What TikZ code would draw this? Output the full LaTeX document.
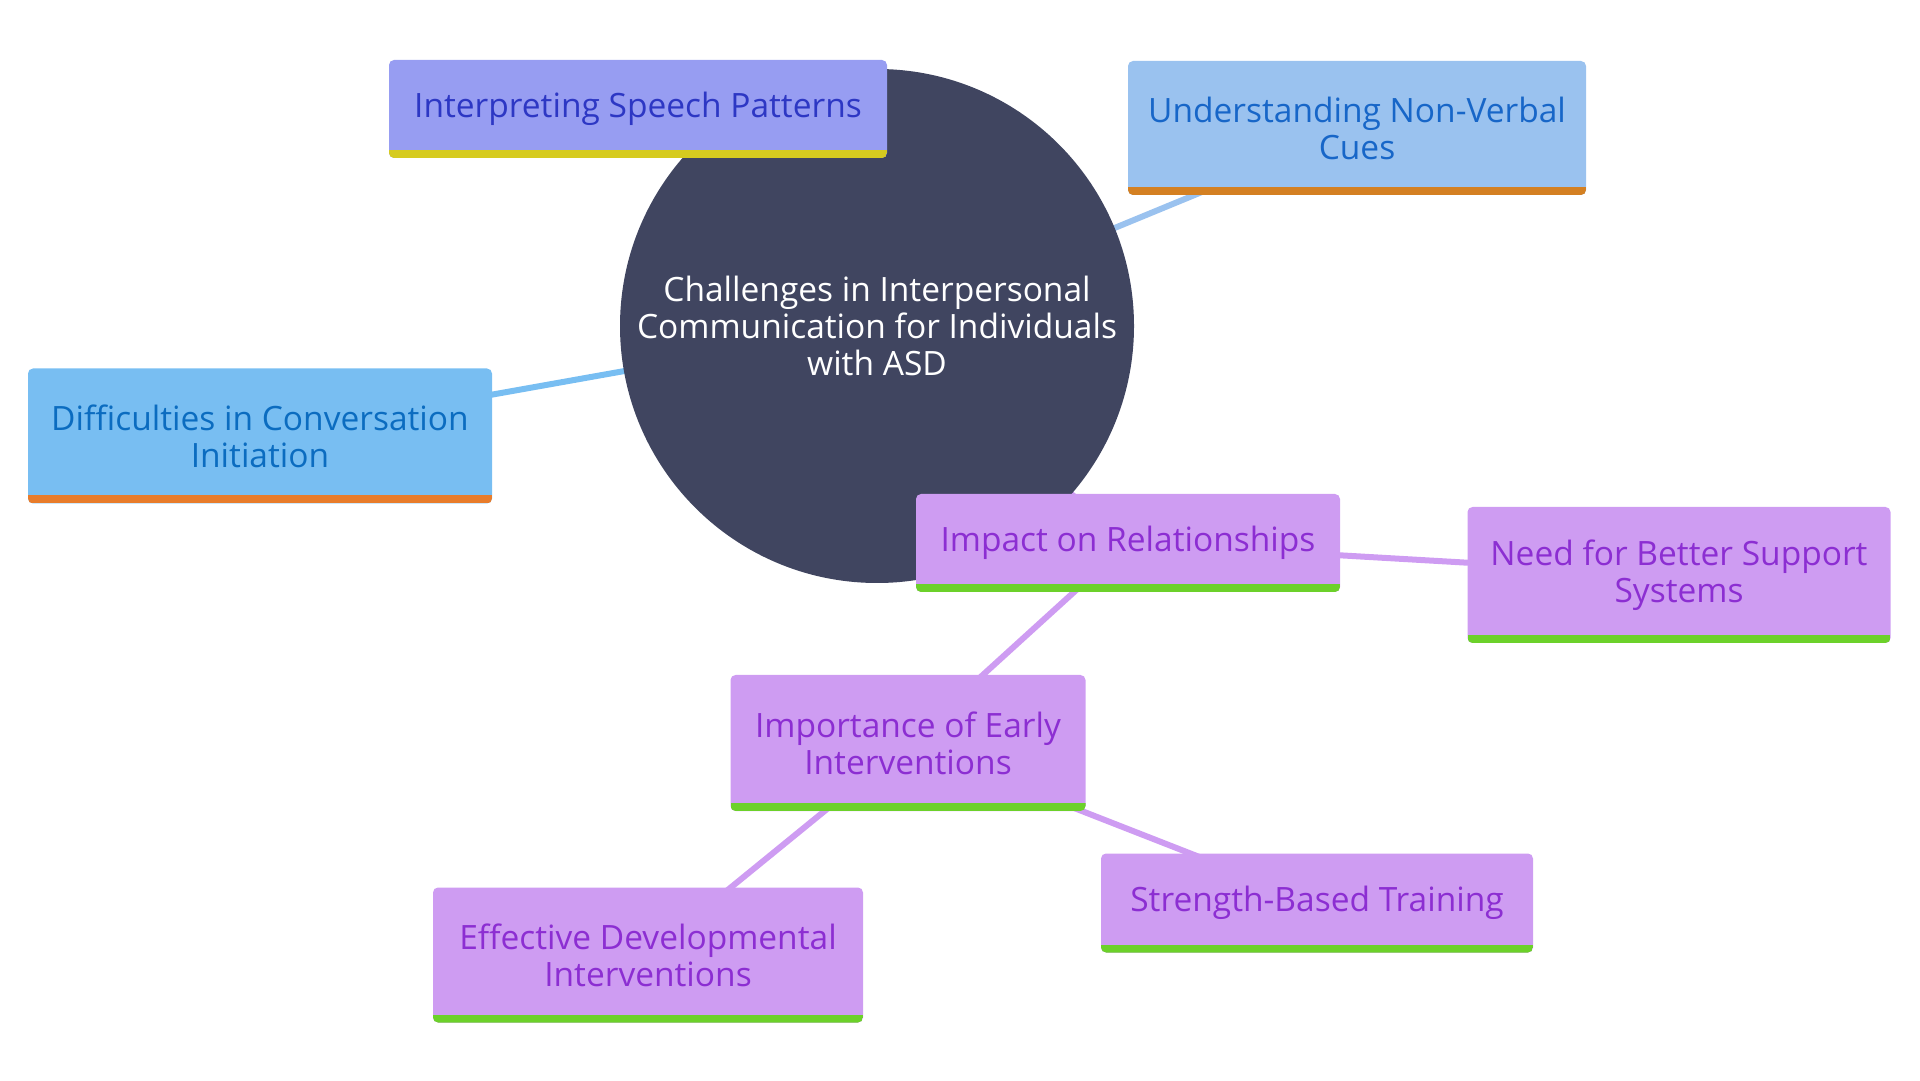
\documentclass[tikz,border=0pt]{standalone}
\usepackage{fontspec}
\setmainfont{Open Sans}
\usetikzlibrary{positioning, backgrounds}
\definecolor{HubSlate}{HTML}{404560}
\definecolor{SpeechFill}{HTML}{979DF2}
\definecolor{SpeechInk}{HTML}{2D37C4}
\definecolor{SpeechBar}{HTML}{D6CB1F}
\definecolor{CueFill}{HTML}{9AC2EF}
\definecolor{CueInk}{HTML}{1766C8}
\definecolor{CueBar}{HTML}{D48022}
\definecolor{TalkFill}{HTML}{78BEF2}
\definecolor{TalkInk}{HTML}{0B6CC0}
\definecolor{TalkBar}{HTML}{E87C2B}
\definecolor{BondFill}{HTML}{CE9CF2}
\definecolor{BondInk}{HTML}{8C2ED2}
\definecolor{BondBar}{HTML}{6CD12A}

\begin{document}
\begin{tikzpicture}[
          x=1pt, y=1pt,
          font=\fontsize{33.5}{37}\selectfont,
          hub/.style={circle, fill=HubSlate, text=white, minimum size=514pt, inner sep=0pt, align=center},
          topic/.style 2 args={rectangle, rounded corners=5pt, fill=#1, inner sep=0pt, align=center,
            path picture={\fill[#2, sharp corners] (path picture bounding box.south west) rectangle ([yshift=8pt]path picture bounding box.south east);}},
          speech/.style={topic={SpeechFill}{SpeechBar}, text=SpeechInk},
          cue/.style={topic={CueFill}{CueBar}, text=CueInk},
          talk/.style={topic={TalkFill}{TalkBar}, text=TalkInk},
          bond/.style={topic={BondFill}{BondBar}, text=BondInk},
          link/.style={#1, line width=6pt}
        ]
          \useasboundingbox (0,0) rectangle (1920,1080);

          \node (hub) [hub] at (877,754) {Challenges in Interpersonal\\Communication for Individuals\\with ASD};
          \node (speech) [speech, minimum width=498pt, minimum height=98pt] at (638,971) {Interpreting Speech Patterns};
          \node (cues) [cue, minimum width=458pt, minimum height=134pt] at (1357,952) {Understanding Non-Verbal\\Cues};
          \node (talk) [talk, minimum width=464pt, minimum height=135pt] at (260,644) {Difficulties in Conversation\\Initiation};
          \node (bonds) [bond, minimum width=424pt, minimum height=98pt] at (1128,537) {Impact on Relationships};
          \node (support) [bond, minimum width=423pt, minimum height=136pt] at (1679,505) {Need for Better Support\\Systems};
          \node (early) [bond, minimum width=355pt, minimum height=136pt] at (908,337) {Importance of Early\\Interventions};
          \node (devel) [bond, minimum width=430pt, minimum height=135pt] at (648,125) {Effective Developmental\\Interventions};
          \node (strength) [bond, minimum width=432pt, minimum height=99pt] at (1317,177) {Strength-Based Training};

          \begin{scope}[on background layer]
            \draw[link=SpeechFill] (hub.center) -- (speech.center);
            \draw[link=CueFill] (hub.center) -- (cues.center);
            \draw[link=TalkFill] (hub.center) -- (talk.center);
            \draw[link=BondFill] (hub.center) -- (bonds.center);
            \draw[link=BondFill] (bonds.center) -- (support.center);
            \draw[link=BondFill] (bonds.center) -- (early.center);
            \draw[link=BondFill] (early.center) -- (devel.center);
            \draw[link=BondFill] (early.center) -- (strength.center);
          \end{scope}
        \end{tikzpicture}
\end{document}
